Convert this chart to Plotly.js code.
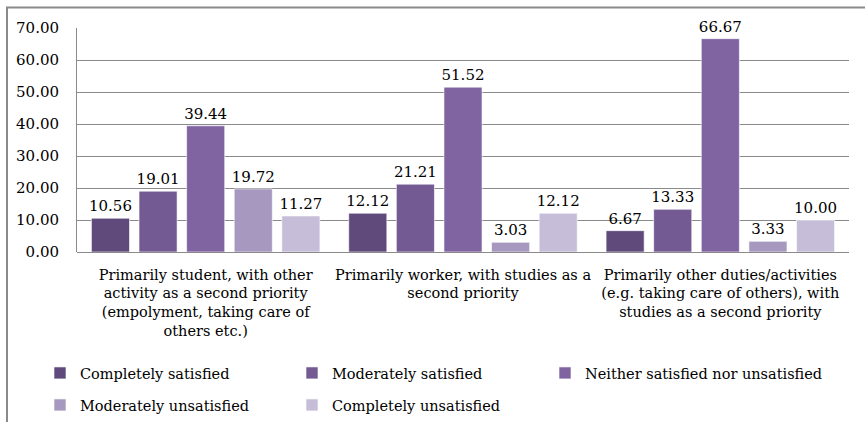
<!DOCTYPE html>
<html>
<head>
<meta charset="utf-8">
<script src="https://cdn.plot.ly/plotly-3.0.1.min.js"></script>
<style>html,body{margin:0;padding:0;background:#fff}#chart{width:865px;height:422px}</style>
</head>
<body>
<div id="chart"></div>
<script>
const categories = [
  "Primarily student, with other<br>activity as a second priority<br>(empolyment, taking care of<br>others etc.)",
  "Primarily worker, with studies as a<br>second priority",
  "Primarily other duties/activities<br>(e.g. taking care of others), with<br>studies as a second priority"
];
const seriesNames = ["Completely satisfied","Moderately satisfied","Neither satisfied nor unsatisfied","Moderately unsatisfied","Completely unsatisfied"];
const completelySatisfied = [10.56, 12.12, 6.67];
const moderatelySatisfied = [19.01, 21.21, 13.33];
const neitherSatisfied = [39.44, 51.52, 66.67];
const moderatelyUnsatisfied = [19.72, 3.03, 3.33];
const completelyUnsatisfied = [11.27, 12.12, 10.00];
const yTicks = [0,10,20,30,40,50,60,70];

const seriesValues = [completelySatisfied, moderatelySatisfied, neitherSatisfied, moderatelyUnsatisfied, completelyUnsatisfied];
const colors = ["#5F4A7B","#735A92","#8064A2","#A698BE","#C6BED8"];
const legendIds = ["legend","legend2","legend3","legend4","legend5"];
// legend placement (px): left edge of each entry, vertical centre of row
const legendX = [40, 292, 545, 40, 292];
const legendY = [373, 373, 373, 405, 405];
const FONT = "DejaVu Serif";
const FS = 15;

const traces = seriesValues.map((vals, i) => ({
  type: "bar",
  name: seriesNames[i],
  x: categories,
  y: vals,
  marker: {color: colors[i], line: {color: "rgba(255,255,255,0.6)", width: 1}},
  text: vals.map(v => v.toFixed(2)),
  textposition: "outside",
  constraintext: "none",
  textfont: {family: FONT, size: FS, color: "#000"},
  cliponaxis: false,
  legend: legendIds[i],
  hoverinfo: "none"
}));

const layout = {
  width: 865, height: 422,
  margin: {l: 77, r: 16, t: 28, b: 170},
  paper_bgcolor: "#fff", plot_bgcolor: "#fff",
  font: {family: FONT, size: FS, color: "#000"},
  barmode: "group",
  bargap: 0.075,
  bargroupgap: 0.2,
  showlegend: true,
  xaxis: {
    showgrid: false, zeroline: false,
    showline: false, automargin: false,
    tickangle: 0,
    tickfont: {family: FONT, size: 14.5, color: "#000"},
    ticks: "", ticklabelstandoff: 12
  },
  yaxis: {
    range: [0, 70], tickvals: yTicks, tickformat: ".2f", automargin: false,
    showgrid: true, gridcolor: "#8a8a8a", gridwidth: 1,
    zeroline: true, zerolinecolor: "#8a8a8a", zerolinewidth: 1,
    showline: true, linecolor: "#8a8a8a", linewidth: 1,
    ticks: "", ticklabelstandoff: 14,
    tickfont: {family: FONT, size: FS, color: "#000"}
  },
  shapes: [{
    type: "rect", xref: "paper", yref: "paper",
    x0: (7 - 77) / 772, x1: 1.05, y0: -0.9, y1: 1 + (28 - 7.5) / 224,
    line: {color: "#8a8a8a", width: 2}, fillcolor: "rgba(0,0,0,0)", layer: "below"
  }]
};

legendIds.forEach((id, i) => {
  layout[id] = {
    orientation: "h", xref: "container", yref: "container",
    x: legendX[i] / 865, xanchor: "left",
    y: 1 - legendY[i] / 422, yanchor: "middle",
    font: {family: FONT, size: 14.5, color: "#000"},
    bgcolor: "rgba(0,0,0,0)"
  };
});

Plotly.newPlot("chart", traces, layout, {displayModeBar: false, staticPlot: true});
</script>
</body>
</html>
